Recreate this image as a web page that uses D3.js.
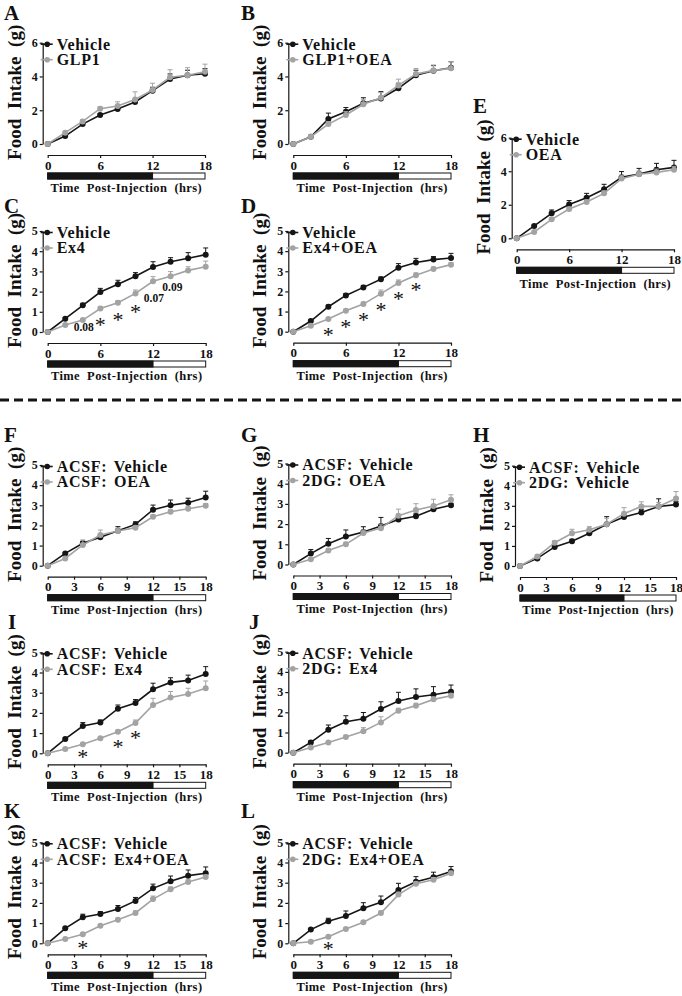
<!DOCTYPE html>
<html><head><meta charset="utf-8">
<script src="https://cdn.jsdelivr.net/npm/d3@7"></script>
<style>
body{margin:0;background:#fff}
svg{display:block}
text{font-family:"Liberation Serif","Times New Roman",serif;font-weight:bold;fill:#111}
</style>
</head><body>
<svg id="fig" width="682" height="996"></svg>
<script>
// ---------- DATA ----------
const hours = [0,2,4,6,8,10,12,14,16,18];
const yTicks6 = [0,2,4,6];
const yTicks5 = [0,1,2,3,4,5];
const xTicks6 = [0,6,12,18];
const xTicks3 = [0,3,6,9,12,15,18];
const xTitle = "Time  Post-Injection  (hrs)";
const yTitle = "Food  Intake  (g)";

const aLegend = ["Vehicle","GLP1"];
const aVehicle    = [0,0.47,1.18,1.72,2.07,2.49,3.16,3.85,4.07,4.16];
const aVehicleSem = [0,0.05,0.06,0.08,0.10,0.12,0.20,0.30,0.30,0.30];
const aTreat      = [0,0.67,1.34,2.09,2.25,2.64,3.20,3.95,4.07,4.28];
const aTreatSem   = [0,0.06,0.10,0.12,0.25,0.45,0.40,0.45,0.45,0.45];

const bLegend = ["Vehicle","GLP1+OEA"];
const bVehicle    = [0,0.43,1.48,1.91,2.41,2.70,3.30,4.07,4.34,4.52];
const bVehicleSem = [0,0.05,0.35,0.25,0.33,0.40,0.30,0.30,0.30,0.35];
const bTreat      = [0,0.43,1.18,1.72,2.35,2.74,3.47,4.14,4.36,4.48];
const bTreatSem   = [0,0.05,0.15,0.20,0.30,0.30,0.37,0.33,0.32,0.40];

const cLegend = ["Vehicle","Ex4"];
const cVehicle    = [0,0.66,1.32,1.98,2.36,2.76,3.22,3.48,3.65,3.83];
const cVehicleSem = [0,0.05,0.10,0.18,0.20,0.18,0.26,0.20,0.28,0.33];
const cTreat      = [0,0.35,0.59,1.16,1.45,1.91,2.51,2.76,3.05,3.23];
const cTreatSem   = [0,0.05,0.07,0.10,0.10,0.17,0.23,0.23,0.18,0.28];
const cStarHours = [6,8,10];
const cStarY     = [0.51,0.76,1.14];
const cPText  = ["0.08","0.07","0.09"];
const cPHours = [4.1,12.1,14.2];
const cPY     = [0.26,1.68,2.24];

const dLegend = ["Vehicle","Ex4+OEA"];
const dVehicle    = [0,0.53,1.24,1.80,2.20,2.60,3.18,3.44,3.58,3.66];
const dVehicleSem = [0,0.05,0.08,0.10,0.10,0.12,0.20,0.20,0.15,0.23];
const dTreat      = [0,0.30,0.63,1.04,1.37,1.89,2.42,2.80,3.11,3.33];
const dTreatSem   = [0,0.04,0.06,0.08,0.10,0.18,0.15,0.12,0.10,0.10];
const dStarHours = [4,6,8,10,12,14];
const dStarY     = [0.0,0.37,0.74,1.24,1.77,2.21];

const eLegend = ["Vehicle","OEA"];
const eVehicle    = [0,0.74,1.49,2.01,2.42,2.92,3.64,3.83,4.09,4.23];
const eVehicleSem = [0,0.05,0.20,0.24,0.26,0.30,0.34,0.34,0.38,0.42];
const eTreat      = [0,0.38,1.13,1.75,2.17,2.68,3.56,3.82,3.93,4.09];
const eTreatSem   = [0,0.05,0.10,0.10,0.12,0.15,0.20,0.20,0.20,0.20];

const fLegend = ["ACSF: Vehicle","ACSF: OEA"];
const fVehicle    = [0,0.61,1.11,1.41,1.74,2.05,2.78,3.00,3.13,3.39];
const fVehicleSem = [0,0.05,0.10,0.10,0.20,0.13,0.23,0.26,0.22,0.31];
const fTreat      = [0,0.36,1.03,1.52,1.72,1.89,2.43,2.68,2.83,2.98];
const fTreatSem   = [0,0.08,0.25,0.25,0.15,0.10,0.10,0.10,0.10,0.10];

const gLegend = ["ACSF: Vehicle","2DG: OEA"];
const gVehicle    = [0,0.54,1.03,1.38,1.61,1.90,2.23,2.39,2.74,2.93];
const gVehicleSem = [0,0.20,0.26,0.33,0.26,0.43,0.15,0.15,0.15,0.10];
const gTreat      = [0,0.26,0.69,1.00,1.56,1.80,2.41,2.70,2.90,3.20];
const gTreatSem   = [0,0.05,0.10,0.10,0.15,0.20,0.33,0.31,0.33,0.25];

const hLegend = ["ACSF: Vehicle","2DG: Vehicle"];
const hVehicle    = [0,0.38,0.95,1.23,1.63,2.08,2.44,2.67,2.97,3.06];
const hVehicleSem = [0,0.05,0.10,0.10,0.15,0.38,0.15,0.15,0.38,0.15];
const hTreat      = [0,0.47,1.16,1.63,1.81,2.08,2.61,2.97,2.97,3.36];
const hTreatSem   = [0,0.08,0.10,0.20,0.15,0.30,0.30,0.23,0.20,0.35];

const iLegend = ["ACSF: Vehicle","ACSF: Ex4"];
const iVehicle    = [0,0.71,1.35,1.52,2.21,2.49,3.17,3.51,3.61,3.93];
const iVehicleSem = [0,0.05,0.17,0.13,0.18,0.17,0.30,0.23,0.26,0.36];
const iTreat      = [0,0.21,0.45,0.74,1.07,1.50,2.39,2.76,2.94,3.22];
const iTreatSem   = [0,0.04,0.05,0.05,0.07,0.15,0.33,0.30,0.28,0.36];
const iStarHours = [4,8,10];
const iStarY     = [-0.05,0.46,0.91];

const jLegend = ["ACSF: Vehicle","2DG: Ex4"];
const jVehicle    = [0,0.51,1.14,1.53,1.68,2.16,2.56,2.76,2.87,3.02];
const jVehicleSem = [0,0.08,0.23,0.30,0.31,0.36,0.43,0.40,0.40,0.33];
const jTreat      = [0,0.26,0.50,0.78,1.06,1.50,2.08,2.33,2.64,2.82];
const jTreatSem   = [0,0.04,0.05,0.08,0.18,0.28,0.12,0.12,0.12,0.12];

const kLegend = ["ACSF: Vehicle","ACSF: Ex4+OEA"];
const kVehicle    = [0,0.74,1.29,1.45,1.70,2.10,2.72,3.07,3.35,3.47];
const kVehicleSem = [0,0.06,0.15,0.12,0.17,0.17,0.21,0.26,0.28,0.31];
const kTreat      = [0,0.21,0.45,0.87,1.16,1.50,2.19,2.67,3.04,3.28];
const kTreatSem   = [0,0.03,0.04,0.06,0.08,0.10,0.15,0.12,0.10,0.10];
const kStarHours = [4];
const kStarY     = [-0.08];

const lLegend = ["ACSF: Vehicle","2DG: Ex4+OEA"];
const lVehicle    = [0,0.68,1.09,1.35,1.73,2.03,2.64,3.05,3.27,3.55];
const lVehicleSem = [0,0.05,0.15,0.25,0.28,0.31,0.33,0.25,0.25,0.25];
const lTreat      = [0,0.08,0.33,0.71,1.04,1.50,2.41,2.95,3.15,3.47];
const lTreatSem   = [0,0.03,0.04,0.06,0.08,0.10,0.12,0.10,0.10,0.10];
const lStarHours = [4];
const lStarY     = [-0.12];

// ---------- PANELS (data refs) ----------
const panels = [
 {id:"A",legend:aLegend,veh:aVehicle,vehE:aVehicleSem,trt:aTreat,trtE:aTreatSem,yMax:6,yTicks:yTicks6,xTicks:xTicks6},
 {id:"B",legend:bLegend,veh:bVehicle,vehE:bVehicleSem,trt:bTreat,trtE:bTreatSem,yMax:6,yTicks:yTicks6,xTicks:xTicks6},
 {id:"C",legend:cLegend,veh:cVehicle,vehE:cVehicleSem,trt:cTreat,trtE:cTreatSem,yMax:5,yTicks:yTicks5,xTicks:xTicks6,
   stars:{h:cStarHours,v:cStarY},pvals:{t:cPText,h:cPHours,v:cPY}},
 {id:"D",legend:dLegend,veh:dVehicle,vehE:dVehicleSem,trt:dTreat,trtE:dTreatSem,yMax:5,yTicks:yTicks5,xTicks:xTicks6,
   stars:{h:dStarHours,v:dStarY}},
 {id:"E",legend:eLegend,veh:eVehicle,vehE:eVehicleSem,trt:eTreat,trtE:eTreatSem,yMax:6,yTicks:yTicks6,xTicks:xTicks6},
 {id:"F",legend:fLegend,veh:fVehicle,vehE:fVehicleSem,trt:fTreat,trtE:fTreatSem,yMax:5,yTicks:yTicks5,xTicks:xTicks3},
 {id:"G",legend:gLegend,veh:gVehicle,vehE:gVehicleSem,trt:gTreat,trtE:gTreatSem,yMax:5,yTicks:yTicks5,xTicks:xTicks3},
 {id:"H",legend:hLegend,veh:hVehicle,vehE:hVehicleSem,trt:hTreat,trtE:hTreatSem,yMax:5,yTicks:yTicks5,xTicks:xTicks3},
 {id:"I",legend:iLegend,veh:iVehicle,vehE:iVehicleSem,trt:iTreat,trtE:iTreatSem,yMax:5,yTicks:yTicks5,xTicks:xTicks3,
   stars:{h:iStarHours,v:iStarY}},
 {id:"J",legend:jLegend,veh:jVehicle,vehE:jVehicleSem,trt:jTreat,trtE:jTreatSem,yMax:5,yTicks:yTicks5,xTicks:xTicks3},
 {id:"K",legend:kLegend,veh:kVehicle,vehE:kVehicleSem,trt:kTreat,trtE:kTreatSem,yMax:5,yTicks:yTicks5,xTicks:xTicks3,
   stars:{h:kStarHours,v:kStarY}},
 {id:"L",legend:lLegend,veh:lVehicle,vehE:lVehicleSem,trt:lTreat,trtE:lTreatSem,yMax:5,yTicks:yTicks5,xTicks:xTicks3,
   stars:{h:lStarHours,v:lStarY}}
];

// ---------- LAYOUT ----------
const layout = {
 A:{xL:47.7,xR:205,yB:144,yT:42.7,lx:4,ly:20},
 B:{xL:293.3,xR:451,yB:144,yT:42.7,lx:241,ly:20},
 C:{xL:47.7,xR:205.7,yB:332,yT:231,lx:4,ly:213},
 D:{xL:293.3,xR:451,yB:331.7,yT:231,lx:241,ly:213},
 E:{xL:516.7,xR:674,yB:238.3,yT:137.7,lx:473,ly:112.7,titleGap:10},
 F:{xL:47.7,xR:205.7,yB:565.7,yT:465,lx:4,ly:441.7},
 G:{xL:293.3,xR:451,yB:564.5,yT:463.5,lx:241,ly:441.7},
 H:{xL:520,xR:676,yB:566,yT:465.7,lx:473,ly:441.7},
 I:{xL:47.7,xR:205.7,yB:753.3,yT:652.3,lx:8,ly:629},
 J:{xL:293.3,xR:451,yB:752.7,yT:651.7,lx:249,ly:629},
 K:{xL:47.7,xR:205.7,yB:943.3,yT:842.3,lx:4,ly:818},
 L:{xL:293.3,xR:451,yB:943.3,yT:842.3,lx:241,ly:818}
};

const BLACK = "#151515", GRAY = "#a3a3a3";
const svg = d3.select("#fig");
svg.append("rect").attr("width",682).attr("height",996).attr("fill","#fff");

function drawSeries(g, x, y, vals, errs, color){
  hours.forEach((h,i)=>{
    if(errs[i] <= 0) return;
    const cx = x(h), y1 = y(vals[i]), y2 = y(vals[i]+errs[i]);
    g.append("line").attr("x1",cx).attr("x2",cx).attr("y1",y1).attr("y2",y2)
      .attr("stroke",color).attr("stroke-width",1);
    g.append("line").attr("x1",cx-2.5).attr("x2",cx+2.5).attr("y1",y2).attr("y2",y2)
      .attr("stroke",color).attr("stroke-width",1);
  });
  const line = d3.line().x((d,i)=>x(hours[i])).y(d=>y(d));
  g.append("path").datum(vals).attr("d",line).attr("fill","none")
    .attr("stroke",color).attr("stroke-width",1.6);
  g.selectAll(null).data(vals).enter().append("circle")
    .attr("cx",(d,i)=>x(hours[i])).attr("cy",d=>y(d)).attr("r",3).attr("fill",color);
}

function drawPanel(p){
  const L = layout[p.id];
  const g = svg.append("g");
  const x = d3.scaleLinear().domain([0,18]).range([L.xL, L.xR]);
  const y = d3.scaleLinear().domain([0,p.yMax]).range([L.yB, L.yT]);
  const axY = L.yB + 11;

  const ya = g.append("g").attr("transform",`translate(${L.xL-5},0)`)
    .call(d3.axisLeft(y).tickValues(p.yTicks).tickSize(3).tickSizeOuter(0).tickPadding(2).tickFormat(d3.format("d")));
  ya.selectAll("path,line").attr("stroke",BLACK).attr("stroke-width",1.2);
  ya.selectAll("text").attr("font-size",12).attr("fill",BLACK)
    .style("font-family",'"Liberation Serif","Times New Roman",serif').style("font-weight","bold");

  const xa = g.append("g").attr("transform",`translate(0,${axY})`)
    .call(d3.axisBottom(x).tickValues(p.xTicks).tickSize(3).tickSizeOuter(0).tickPadding(2.5).tickFormat(d3.format("d")));
  xa.selectAll("path,line").attr("stroke",BLACK).attr("stroke-width",1.2);
  xa.selectAll("text").attr("font-size",13).attr("fill",BLACK)
    .style("font-family",'"Liberation Serif","Times New Roman",serif').style("font-weight","bold");

  const barY = axY + 18;
  g.append("rect").attr("x",x(0)).attr("y",barY).attr("width",x(18)-x(0)).attr("height",6)
    .attr("fill","#fff").attr("stroke",BLACK).attr("stroke-width",1);
  g.append("rect").attr("x",x(0)).attr("y",barY).attr("width",x(12)-x(0)).attr("height",6)
    .attr("fill",BLACK).attr("stroke",BLACK).attr("stroke-width",1);

  g.append("text").attr("x",(x(0)+x(18))/2).attr("y",barY+6+(L.titleGap||8.5)+4.5)
    .attr("text-anchor","middle").attr("font-size",12.5)
    .style("letter-spacing","0.4px").style("white-space","pre").text(xTitle);

  g.append("text").attr("transform",`translate(${L.xL-27},${(L.yB+L.yT)/2 - 1}) rotate(-90)`)
    .attr("text-anchor","middle").attr("font-size",19).style("white-space","pre").text(yTitle);

  g.append("text").attr("x",L.lx).attr("y",L.ly).attr("font-size",21).text(p.id);

  drawSeries(g, x, y, p.veh, p.vehE, BLACK);
  drawSeries(g, x, y, p.trt, p.trtE, GRAY);

  const ly1 = L.yT + 1.5, ly2 = ly1 + 15.5;
  [[ly1,BLACK,p.legend[0]],[ly2,GRAY,p.legend[1]]].forEach(([ly,col,lab])=>{
    g.append("line").attr("x1",L.xL-7).attr("x2",L.xL+5).attr("y1",ly).attr("y2",ly)
      .attr("stroke",col).attr("stroke-width",1.6);
    g.append("circle").attr("cx",L.xL-0.5).attr("cy",ly).attr("r",2.8).attr("fill",col);
    g.append("text").attr("x",L.xL+9).attr("y",ly).attr("dy","0.34em")
      .attr("font-size",16).style("letter-spacing","0.7px").style("word-spacing","2px").text(lab);
  });

  if(p.stars){
    p.stars.h.forEach((h,i)=>{
      g.append("text").attr("x",x(h)).attr("y",y(p.stars.v[i])+10)
        .attr("text-anchor","middle").attr("font-size",22).style("font-weight","normal").text("*");
    });
  }
  if(p.pvals){
    p.pvals.t.forEach((t,i)=>{
      g.append("text").attr("x",x(p.pvals.h[i])).attr("y",y(p.pvals.v[i])+4)
        .attr("text-anchor","middle").attr("font-size",11.5).text(t);
    });
  }
}

panels.forEach(drawPanel);

svg.append("line").attr("x1",0).attr("x2",682).attr("y1",400).attr("y2",400)
  .attr("stroke",BLACK).attr("stroke-width",3).attr("stroke-dasharray","9,5");
</script>
</body></html>
